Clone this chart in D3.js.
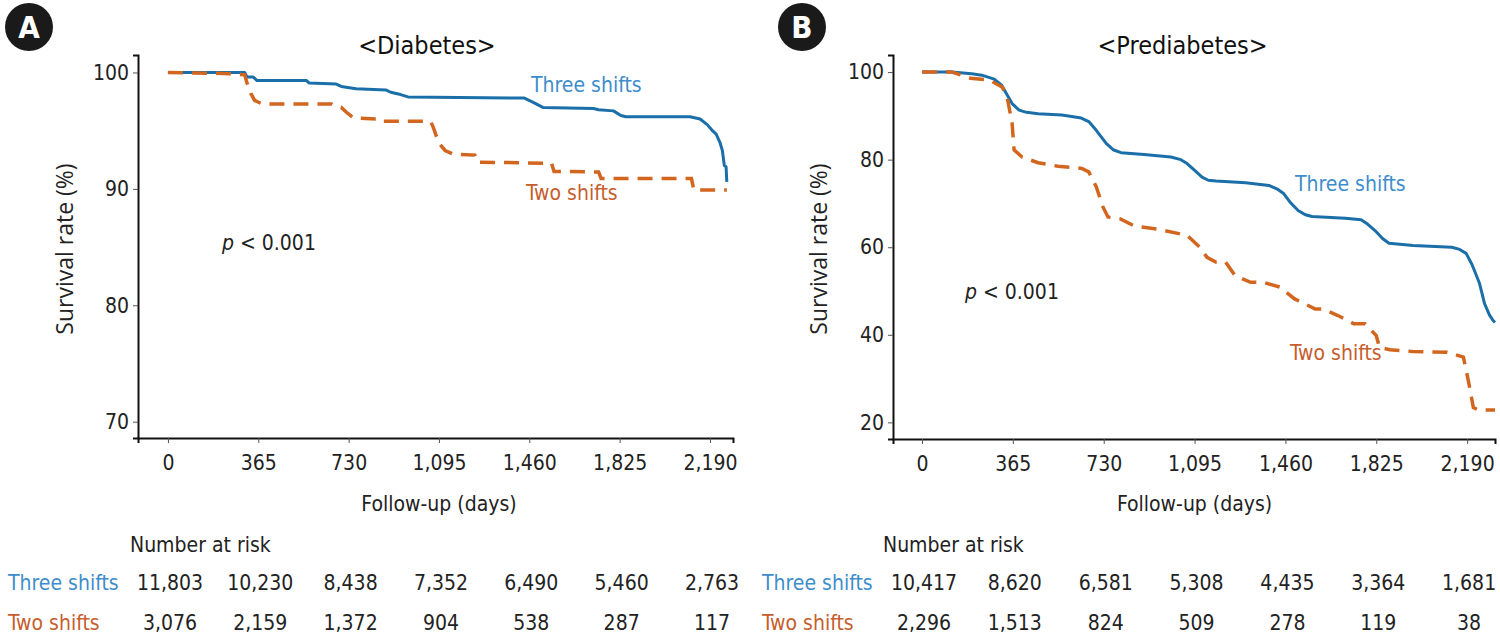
<!DOCTYPE html>
<html>
<head>
<meta charset="utf-8">
<script src="https://cdn.jsdelivr.net/npm/d3@7"></script>
<style>
  body { margin: 0; background: #fff; }
  svg { display: block; }
</style>
</head>
<body>
<div id="chart"></div>
<script>
// Kaplan-Meier style survival curves, two panels with number-at-risk tables

const tickDays = [0, 365, 730, 1095, 1460, 1825, 2190];
const groupNames = ['Three shifts', 'Two shifts'];

// Panel A: diabetes
const diabetesThreeDays = [0, 310, 320, 345, 360, 560, 570, 680, 700, 760, 880, 900, 940, 970, 1440, 1470, 1515, 1720, 1740, 1800, 1830, 1850, 2110, 2150, 2180, 2200, 2215, 2230, 2240, 2248, 2255, 2258];
const diabetesThreeSurv = [100, 100, 99.6, 99.6, 99.3, 99.3, 99.1, 99.0, 98.8, 98.6, 98.5, 98.3, 98.1, 97.9, 97.8, 97.5, 97.0, 96.9, 96.8, 96.7, 96.3, 96.2, 96.2, 96.0, 95.5, 95.0, 94.7, 94.0, 93.3, 92.0, 91.9, 90.6];
const diabetesTwoDays = [0, 250, 310, 318, 335, 350, 380, 660, 675, 700, 720, 750, 850, 860, 1060, 1070, 1085, 1100, 1120, 1150, 1240, 1250, 1550, 1560, 1740, 1750, 2115, 2125, 2258];
const diabetesTwoSurv = [100, 99.9, 99.8, 99.2, 98.2, 97.6, 97.3, 97.3, 97.1, 97.0, 96.6, 96.1, 96.0, 95.8, 95.8, 95.4, 94.5, 93.8, 93.3, 93.0, 92.9, 92.3, 92.2, 91.5, 91.45, 90.9, 90.9, 89.9, 89.9];
const diabetesRiskThree = [11803, 10230, 8438, 7352, 6490, 5460, 2763];
const diabetesRiskTwo = [3076, 2159, 1372, 904, 538, 287, 117];
const diabetesTicksY = [70, 80, 90, 100];

// Panel B: prediabetes
const preThreeDays = [0, 120, 200, 240, 290, 320, 340, 362, 390, 420, 466, 562, 640, 670, 700, 740, 770, 800, 892, 1000, 1040, 1065, 1100, 1125, 1150, 1181, 1300, 1394, 1430, 1454, 1480, 1511, 1540, 1567, 1700, 1764, 1790, 1820, 1850, 1876, 1973, 2129, 2160, 2186, 2210, 2240, 2260, 2280, 2295, 2302];
const preThreeSurv = [100, 100, 99.6, 99.3, 98.4, 97.0, 95.0, 92.8, 91.3, 90.8, 90.5, 90.2, 89.5, 88.7, 86.7, 83.7, 82.2, 81.6, 81.2, 80.6, 80.0, 79.1, 77.3, 76.0, 75.3, 75.1, 74.7, 74.1, 73.2, 72.2, 70.2, 68.4, 67.4, 67.0, 66.6, 66.3, 65.3, 63.8, 62.0, 60.9, 60.4, 60.0, 59.5, 58.6, 56.0, 51.7, 47.1, 44.5, 43.2, 42.8];
const preTwoDays = [0, 120, 195, 270, 322, 342, 362, 370, 402, 466, 546, 642, 670, 700, 727, 747, 795, 855, 950, 1065, 1116, 1145, 1180, 1220, 1258, 1320, 1370, 1437, 1497, 1580, 1610, 1671, 1735, 1780, 1825, 1838, 1880, 1970, 2110, 2175, 2195, 2215, 2236, 2302];
const preTwoSurv = [100, 100, 98.6, 98.2, 96.6, 94.3, 88.3, 82.2, 80.6, 79.3, 78.5, 78.0, 77.2, 73.8, 69.2, 66.9, 66.5, 64.8, 64.1, 62.7, 60.0, 57.7, 56.6, 56.6, 53.5, 52.0, 52.0, 50.9, 48.2, 45.9, 45.9, 44.4, 42.5, 42.5, 39.8, 37.1, 36.6, 36.2, 36.0, 34.9, 29.5, 23.4, 22.8, 22.8];
const preRiskThree = [10417, 8620, 6581, 5308, 4435, 3364, 1681];
const preRiskTwo = [2296, 1513, 824, 509, 278, 119, 38];
const preTicksY = [20, 40, 60, 80, 100];

const colors = {
    threeLine: '#1b6fa9',
    twoLine: '#d2661f',
    threeText: '#3d8ccb',
    twoText: '#c65d2c'
};

const narrow = '"Liberation Sans Narrow", "DejaVu Sans Condensed", "Roboto Condensed", sans-serif';
const wide = '"Open Sans", "Noto Sans", sans-serif';

const width = 1500, height = 638;

const svg = d3.select('#chart').append('svg')
    .attr('width', width)
    .attr('height', height);

const panels = [
    {
        badge: 'A', title: '<Diabetes>',
        xDomain: [-121, 2283], xRange: [138, 733],
        yDomain: [68.6, 101.5], yRange: [438, 55],
        yTicks: diabetesTicksY,
        three: { days: diabetesThreeDays, surv: diabetesThreeSurv },
        two: { days: diabetesTwoDays, surv: diabetesTwoSurv },
        riskThree: diabetesRiskThree, riskTwo: diabetesRiskTwo,
        badgeX: 29, rowLabelX: 8, nrX: 130, yLabelX: 73,
        pValue: [222, 250],
        threeLabel: [531, 92], twoLabel: [526, 200]
    },
    {
        badge: 'B', title: '<Prediabetes>',
        xDomain: [-116.5, 2302], xRange: [893, 1495],
        yDomain: [16.2, 103.9], yRange: [439, 55],
        yTicks: preTicksY,
        three: { days: preThreeDays, surv: preThreeSurv },
        two: { days: preTwoDays, surv: preTwoSurv },
        riskThree: preRiskThree, riskTwo: preRiskTwo,
        badgeX: 802, rowLabelX: 762, nrX: 883, yLabelX: 827,
        pValue: [965, 299],
        threeLabel: [1295, 191], twoLabel: [1290, 360]
    }
];

panels.forEach(p => drawPanel(p));

function drawPanel(p) {
    const x = d3.scaleLinear().domain(p.xDomain).range(p.xRange);
    const y = d3.scaleLinear().domain(p.yDomain).range(p.yRange);
    const g = svg.append('g');

    // Badge
    g.append('circle')
        .attr('cx', p.badgeX).attr('cy', 27).attr('r', 24)
        .attr('fill', '#1a1a1a');
    g.append('text')
        .attr('x', p.badgeX).attr('y', 38)
        .attr('text-anchor', 'middle')
        .attr('font-family', narrow)
        .attr('font-weight', 'bold')
        .attr('font-size', 31)
        .attr('fill', '#fff')
        .text(p.badge);

    // Title
    const cx = (x(0) + x(2190)) / 2;
    g.append('text')
        .attr('x', cx - 12).attr('y', 54)
        .attr('text-anchor', 'middle')
        .attr('font-family', narrow)
        .attr('font-size', 25)
        .attr('fill', '#111')
        .text(p.title);

    // Axes
    const xAxis = d3.axisBottom(x).tickValues(tickDays)
        .tickFormat(d3.format(',')).tickSizeOuter(0).tickSize(5).tickPadding(12);
    const yAxis = d3.axisLeft(y).tickValues(p.yTicks)
        .tickSizeOuter(0).tickSize(5).tickPadding(4);

    const gx = g.append('g')
        .attr('transform', `translate(0, ${p.yRange[0]})`)
        .call(xAxis);
    const gy = g.append('g')
        .attr('transform', `translate(${p.xRange[0]}, 0)`)
        .call(yAxis);

    [gx, gy].forEach(a => {
        a.select('.domain').attr('stroke', '#111').attr('stroke-width', 2);
        a.selectAll('.tick line').attr('stroke', '#555').attr('stroke-width', 1);
        a.selectAll('.tick text')
            .attr('font-family', narrow)
            .attr('font-size', 21)
            .attr('fill', '#222');
    });

    // Axis titles
    g.append('text')
        .attr('x', cx).attr('y', 511)
        .attr('text-anchor', 'middle')
        .attr('font-family', narrow)
        .attr('font-size', 21)
        .attr('fill', '#222')
        .text('Follow-up (days)');

    g.append('text')
        .attr('transform', `translate(${p.yLabelX}, 249) rotate(-90)`)
        .attr('text-anchor', 'middle')
        .attr('font-family', wide)
        .attr('font-size', 23)
        .attr('fill', '#222')
        .text('Survival rate (%)');

    // Curves
    const line = d3.line()
        .x(d => x(d[0]))
        .y(d => y(d[1]));

    const threePts = d3.zip(p.three.days, p.three.surv);
    const twoPts = d3.zip(p.two.days, p.two.surv);

    g.append('path')
        .attr('d', line(threePts))
        .attr('fill', 'none')
        .attr('stroke', colors.threeLine)
        .attr('stroke-width', 3)
        .attr('stroke-linejoin', 'round');

    g.append('path')
        .attr('d', line(twoPts))
        .attr('fill', 'none')
        .attr('stroke', colors.twoLine)
        .attr('stroke-width', 3.5)
        .attr('stroke-dasharray', '15,9');

    // Curve labels
    g.append('text')
        .attr('x', p.threeLabel[0]).attr('y', p.threeLabel[1])
        .attr('font-family', narrow).attr('font-size', 21)
        .attr('fill', colors.threeText)
        .text(groupNames[0]);
    g.append('text')
        .attr('x', p.twoLabel[0]).attr('y', p.twoLabel[1])
        .attr('font-family', narrow).attr('font-size', 21)
        .attr('fill', colors.twoText)
        .text(groupNames[1]);

    // p value
    const pt = g.append('text')
        .attr('x', p.pValue[0]).attr('y', p.pValue[1])
        .attr('font-family', narrow).attr('font-size', 21)
        .attr('fill', '#222');
    pt.append('tspan').attr('font-style', 'italic').text('p');
    pt.append('tspan').text(' < 0.001');

    // Number at risk table
    g.append('text')
        .attr('x', p.nrX).attr('y', 552)
        .attr('font-family', narrow).attr('font-size', 21)
        .attr('fill', '#222')
        .text('Number at risk');

    const rows = [
        { name: groupNames[0], values: p.riskThree, color: colors.threeText, yPos: 590 },
        { name: groupNames[1], values: p.riskTwo, color: colors.twoText, yPos: 630 }
    ];

    rows.forEach(r => {
        g.append('text')
            .attr('x', p.rowLabelX).attr('y', r.yPos)
            .attr('font-family', narrow).attr('font-size', 21)
            .attr('fill', r.color)
            .text(r.name);

        g.selectAll(null)
            .data(r.values)
            .join('text')
            .attr('x', (d, i) => x(tickDays[i]) + 2)
            .attr('y', r.yPos)
            .attr('text-anchor', 'middle')
            .attr('font-family', narrow).attr('font-size', 21)
            .attr('fill', '#222')
            .text(d => d3.format(',')(d));
    });
}
</script>
</body>
</html>
